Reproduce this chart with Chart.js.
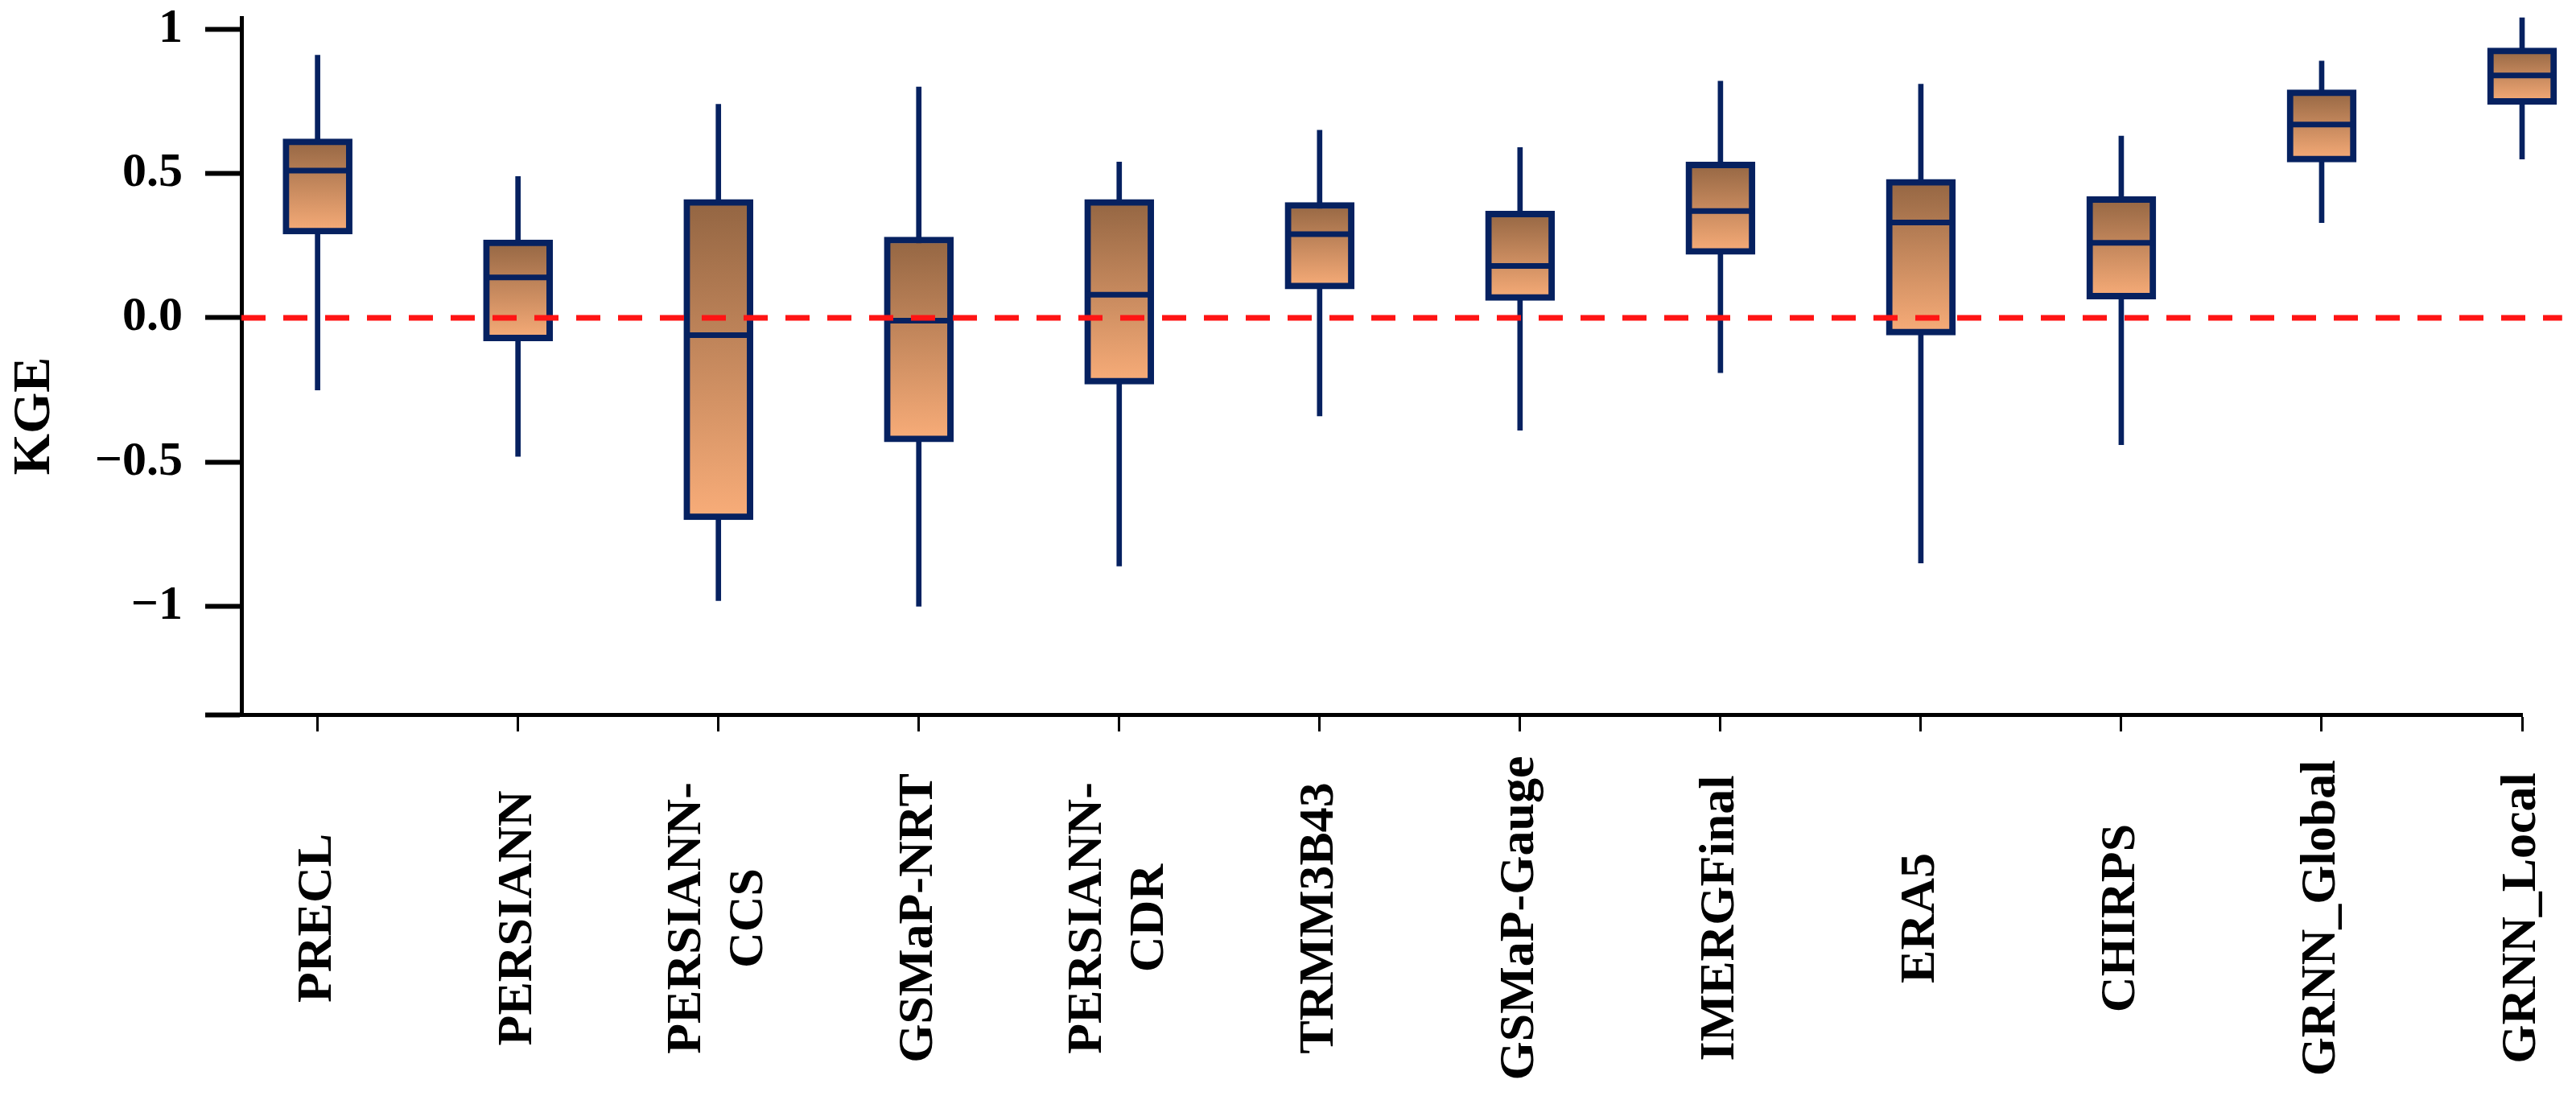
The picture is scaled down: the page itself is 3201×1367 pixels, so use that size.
<!DOCTYPE html>
<html>
<head>
<meta charset="utf-8">
<script src="https://cdn.jsdelivr.net/npm/chart.js@4.4.1/dist/chart.umd.min.js"></script>
<style>
  html, body { margin: 0; padding: 0; background: #ffffff; }
  #wrap { width: 3201px; height: 1367px; position: relative; }
</style>
</head>
<body>
<div id="wrap"><canvas id="chart"></canvas></div>
<script>
// ---------------- data ----------------
const categories = [
  ['PRECL'], ['PERSIANN'], ['PERSIANN-', 'CCS'], ['GSMaP-NRT'], ['PERSIANN-', 'CDR'],
  ['TRMM3B43'], ['GSMaP-Gauge'], ['IMERGFinal'], ['ERA5'], ['CHIRPS'],
  ['GRNN_Global'], ['GRNN_Local']
];
const whiskerLow  = [-0.25, -0.48, -0.98, -1.00, -0.86, -0.34, -0.39, -0.19, -0.85, -0.44, 0.33, 0.55];
const q1          = [ 0.29, -0.08, -0.70, -0.43, -0.23,  0.10,  0.06,  0.22, -0.06,  0.065, 0.54, 0.74];
const median      = [ 0.51,  0.14, -0.06, -0.01,  0.08,  0.29,  0.18,  0.37,  0.33,  0.26, 0.67, 0.84];
const q3          = [ 0.62,  0.27,  0.41,  0.28,  0.41,  0.40,  0.37,  0.54,  0.48,  0.42, 0.79, 0.935];
const whiskerHigh = [ 0.91,  0.49,  0.74,  0.80,  0.54,  0.65,  0.59,  0.82,  0.81,  0.63, 0.89, 1.04];
const yTickValues = [-1, -0.5, 0, 0.5, 1];
const yTickLabels = ['\u22121', '\u22120.5', '0.0', '0.5', '1'];
const yTitle = 'KGE';
const referenceValue = 0;

// ---------------- styles ----------------
const NAVY = '#062160';
const RED = '#ff1414';
const FONT = '"Liberation Serif", "Times New Roman", serif';
const X_MIN = -0.38, X_MAX = 11, X_LINE_END = 11.2;
const Y_MIN = -1.375, Y_MAX = 1.04;

function boxGradient(ctx) {
  const chart = ctx.chart;
  if (!chart.chartArea || ctx.type !== 'data' || !ctx.raw) return '#c98a5e';
  const ys = chart.scales.y;
  const top = ys.getPixelForValue(ctx.raw.y[1]);
  const bot = ys.getPixelForValue(ctx.raw.y[0]);
  const g = chart.ctx.createLinearGradient(0, top, 0, bot);
  g.addColorStop(0, '#936542');
  g.addColorStop(1, '#f9ad79');
  return g;
}

const textPlugin = {
  id: 'texts',
  afterDraw(chart) {
    const { ctx } = chart;
    const xs = chart.scales.x;
    ctx.save();
    ctx.fillStyle = '#000';
    ctx.textAlign = 'center';
    ctx.textBaseline = 'middle';
    ctx.font = 'bold 62px ' + FONT;
    const labelCenterY = xs.top + 253;
    categories.forEach((lines, i) => {
      const px = xs.getPixelForValue(i);
      ctx.save();
      ctx.translate(px, labelCenterY);
      ctx.rotate(-Math.PI / 2);
      lines.forEach((t, k) => {
        ctx.fillText(t, 0, (k - (lines.length - 1) / 2) * 77);
      });
      ctx.restore();
    });
    ctx.font = 'bold 66px ' + FONT;
    ctx.save();
    ctx.translate(44, 517);
    ctx.rotate(-Math.PI / 2);
    ctx.fillText(yTitle, 0, 0);
    ctx.restore();
    ctx.restore();
  }
};

const idx = categories.map((c, i) => i);

new Chart(document.getElementById('chart'), {
  type: 'bar',
  data: {
    datasets: [
      {
        type: 'line',
        label: 'zero',
        data: [{ x: X_MIN, y: referenceValue }, { x: X_LINE_END, y: referenceValue }],
        borderColor: RED,
        borderWidth: 7,
        borderDash: [30, 22],
        pointRadius: 0,
        fill: false,
        clip: false,
        order: 0
      },
      {
        type: 'scatter',
        label: 'median',
        data: idx.map(i => ({ x: i, y: median[i] })),
        pointStyle: 'line',
        radius: 41,
        borderColor: NAVY,
        borderWidth: 7,
        clip: false,
        order: 1
      },
      {
        type: 'bar',
        label: 'box',
        data: idx.map(i => ({ x: i, y: [q1[i], q3[i]] })),
        backgroundColor: boxGradient,
        borderColor: NAVY,
        borderWidth: 8,
        borderSkipped: false,
        barThickness: 86,
        grouped: false,
        clip: false,
        order: 2
      },
      {
        type: 'bar',
        label: 'whisker',
        data: idx.map(i => ({ x: i, y: [whiskerLow[i], whiskerHigh[i]] })),
        backgroundColor: NAVY,
        borderWidth: 0,
        barThickness: 6,
        grouped: false,
        clip: false,
        order: 3
      }
    ]
  },
  plugins: [textPlugin],
  options: {
    responsive: true,
    maintainAspectRatio: false,
    devicePixelRatio: 1,
    animation: false,
    layout: { autoPadding: false, padding: { top: 22, right: 67, bottom: 0, left: 0 } },
    plugins: { legend: { display: false }, tooltip: { enabled: false } },
    scales: {
      x: {
        type: 'linear',
        min: X_MIN,
        max: X_MAX,
        offset: false,
        afterBuildTicks: s => { s.ticks = idx.map(v => ({ value: v })); },
        afterFit: s => { s.height = 479; s.paddingLeft = 0; s.paddingRight = 0; },
        border: { color: '#000', width: 5 },
        grid: { offset: false, drawOnChartArea: false, drawTicks: true, tickLength: 21, tickWidth: 3, tickColor: '#000' },
        ticks: { display: false }
      },
      y: {
        type: 'linear',
        min: Y_MIN,
        max: Y_MAX,
        afterBuildTicks: s => { s.ticks = [Y_MIN].concat(yTickValues).map(v => ({ value: v })); },
        afterFit: s => { s.width = 300; s.paddingTop = 0; s.paddingBottom = 0; },
        border: { color: '#000', width: 5 },
        grid: { drawOnChartArea: false, drawTicks: true, tickLength: 45, tickWidth: 6, tickColor: '#000' },
        ticks: {
          color: '#000',
          padding: 28,
          font: { family: FONT, size: 60, weight: 'bold' },
          callback: (v) => {
            const k = yTickValues.indexOf(v);
            return k >= 0 ? yTickLabels[k] : '';
          }
        }
      }
    }
  }
});
</script>
</body>
</html>
